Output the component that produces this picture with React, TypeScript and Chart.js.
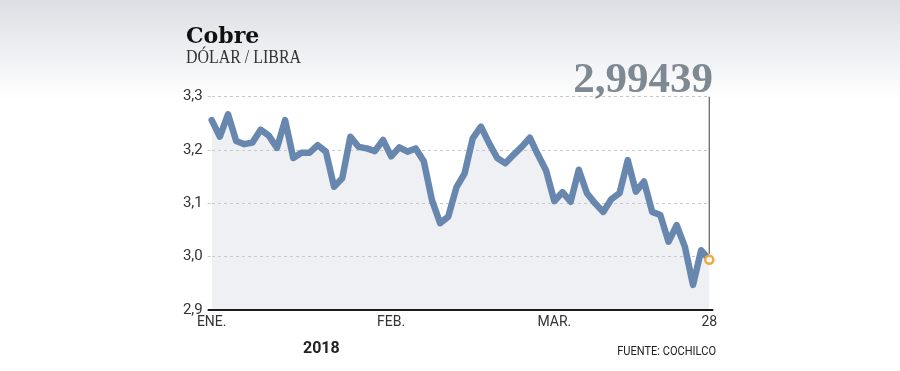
import { useEffect, useRef } from "react";
import { Chart, registerables } from "chart.js";

Chart.register(...registerables);

// Trading days (LME) Jan 2 – Mar 28, 2018
const dates: string[] = [
  "2018-01-02", "2018-01-03", "2018-01-04", "2018-01-05", "2018-01-08", "2018-01-09", "2018-01-10", "2018-01-11",
  "2018-01-12", "2018-01-15", "2018-01-16", "2018-01-17", "2018-01-18", "2018-01-19", "2018-01-22", "2018-01-23",
  "2018-01-24", "2018-01-25", "2018-01-26", "2018-01-29", "2018-01-30", "2018-01-31",
  "2018-02-01", "2018-02-02", "2018-02-05", "2018-02-06", "2018-02-07", "2018-02-08", "2018-02-09", "2018-02-12",
  "2018-02-13", "2018-02-14", "2018-02-15", "2018-02-16", "2018-02-19", "2018-02-20", "2018-02-21", "2018-02-22",
  "2018-02-23", "2018-02-26", "2018-02-27", "2018-02-28",
  "2018-03-01", "2018-03-02", "2018-03-05", "2018-03-06", "2018-03-07", "2018-03-08", "2018-03-09", "2018-03-12",
  "2018-03-13", "2018-03-14", "2018-03-15", "2018-03-16", "2018-03-19", "2018-03-20", "2018-03-21", "2018-03-22",
  "2018-03-23", "2018-03-26", "2018-03-27", "2018-03-28",
];

// Copper price, USD per pound
const prices: number[] = [
  3.256, 3.225, 3.267, 3.217, 3.211, 3.214, 3.238, 3.227, 3.204, 3.256, 3.185, 3.195, 3.195, 3.209, 3.197, 3.131,
  3.147, 3.225, 3.206, 3.203, 3.198, 3.219,
  3.188, 3.205, 3.197, 3.203, 3.179, 3.106, 3.063, 3.075, 3.130, 3.156, 3.222, 3.244, 3.213, 3.185, 3.175, 3.191,
  3.206, 3.223, 3.191, 3.161,
  3.104, 3.121, 3.103, 3.163, 3.119, 3.100, 3.084, 3.108, 3.119, 3.181, 3.122, 3.141, 3.084, 3.078, 3.028, 3.059,
  3.019, 2.947, 3.012, 2.99439,
];

const yTicks: number[] = [2.9, 3.0, 3.1, 3.2, 3.3];
const monthLabels: string[] = ["ENE.", "FEB.", "MAR.", "ABR.", "MAY.", "JUN.", "JUL.", "AGO.", "SEP.", "OCT.", "NOV.", "DIC."];

const titleText = "Cobre";
const subtitleText = "DÓLAR / LIBRA";
const lastValueText = "2,99439";
const yearText = "2018";
const sourceText = "FUENTE: COCHILCO";

const LINE_COLOR = "#6787ae";
const MARKER_COLOR = "#f0aa3c";

export default function App() {
  const ref = useRef<HTMLCanvasElement>(null);

  useEffect(() => {
    const canvas = ref.current;
    if (!canvas) return;

    const decorations = {
      id: "decorations",
      beforeDraw(chart: any) {
        const { ctx, width } = chart;
        ctx.save();
        const g = ctx.createLinearGradient(0, 0, 0, 100);
        g.addColorStop(0, "#dcdfe4");
        g.addColorStop(1, "#ffffff");
        ctx.fillStyle = "#ffffff";
        ctx.fillRect(0, 0, width, chart.height);
        ctx.fillStyle = g;
        ctx.fillRect(0, 0, width, 100);
        ctx.restore();
      },
      afterDraw(chart: any) {
        const { ctx, chartArea } = chart;
        const yScale = chart.scales.y;
        const meta = chart.getDatasetMeta(0);
        const last = meta.data[meta.data.length - 1];
        ctx.save();
        // x axis baseline
        const yb = yScale.getPixelForValue(yTicks[0]);
        ctx.strokeStyle = "#1a1a1a";
        ctx.lineWidth = 2;
        ctx.beginPath();
        ctx.moveTo(chartArea.left - 4, yb);
        ctx.lineTo(chartArea.right + 4, yb);
        ctx.stroke();
        // vertical marker line to last point
        ctx.strokeStyle = "#6b6b6b";
        ctx.lineWidth = 1.3;
        ctx.beginPath();
        ctx.moveTo(last.x, yScale.getPixelForValue(yTicks[yTicks.length - 1]));
        ctx.lineTo(last.x, last.y - 6);
        ctx.stroke();

        // texts
        ctx.textBaseline = "alphabetic";
        ctx.textAlign = "left";
        ctx.fillStyle = "#111111";
        ctx.font = 'bold 23px "DejaVu Serif"';
        ctx.save();
        ctx.translate(186, 42.5);
        ctx.scale(0.96, 1);
        ctx.fillText(titleText, 0, 0);
        ctx.restore();

        ctx.save();
        ctx.translate(186, 62.5);
        ctx.scale(0.885, 1);
        ctx.fillStyle = "#333333";
        ctx.font = '18px "Liberation Serif"';
        ctx.fillText(subtitleText, 0, 0);
        ctx.restore();

        ctx.textAlign = "right";
        ctx.fillStyle = "#7f8993";
        ctx.font = 'bold 43px "Liberation Serif"';
        ctx.fillText(lastValueText, 713, 92);

        ctx.textAlign = "left";
        ctx.fillStyle = "#222222";
        ctx.font = "bold 16px Roboto";
        ctx.fillText(yearText, 303, 353);

        ctx.save();
        ctx.translate(716, 354.5);
        ctx.scale(0.85, 1);
        ctx.textAlign = "right";
        ctx.fillStyle = "#222222";
        ctx.font = "13px Roboto";
        ctx.fillText(sourceText, 0, 0);
        ctx.restore();

        ctx.restore();
      },
    };

    const lastIndex = prices.length - 1;

    const chart = new Chart(canvas, {
      type: "line",
      data: {
        labels: dates,
        datasets: [
          {
            data: prices,
            borderColor: LINE_COLOR,
            borderWidth: 6.5,
            borderJoinStyle: "round",
            borderCapStyle: "round",
            tension: 0,
            fill: "start",
            backgroundColor: "rgba(200,205,215,0.3)",
            pointRadius: (c: any) => (c.dataIndex === lastIndex ? 4 : 0),
            pointHoverRadius: 0,
            pointBorderWidth: 2.5,
            pointBorderColor: MARKER_COLOR,
            pointBackgroundColor: "#ffffff",
            clip: false,
          } as any,
        ],
      },
      options: {
        responsive: false,
        animation: false,
        devicePixelRatio: 1,
        events: [],
        layout: { padding: { left: 161.7, right: 190.7, top: 96.7, bottom: 31 } },
        plugins: { legend: { display: false }, tooltip: { enabled: false }, title: { display: false } },
        scales: {
          x: {
            type: "category",
            offset: false,
            grid: { display: false, drawTicks: false },
            border: { display: false },
            afterFit: (s: any) => {
              s.height = 30;
            },
            ticks: {
              autoSkip: false,
              maxRotation: 0,
              minRotation: 0,
              padding: 4,
              color: "#333333",
              font: { family: "Roboto", size: 14 },
              callback: (_v: any, i: number) => {
                const d = dates[i];
                const m = parseInt(d.slice(5, 7), 10);
                if (i === dates.length - 1) return String(parseInt(d.slice(8, 10), 10));
                if (i === 0 || dates[i - 1].slice(5, 7) !== d.slice(5, 7)) return monthLabels[m - 1];
                return "";
              },
            },
          },
          y: {
            min: yTicks[0],
            max: yTicks[yTicks.length - 1],
            afterFit: (s: any) => {
              s.width = 50;
            },
            afterBuildTicks: (s: any) => {
              s.ticks = yTicks.map((v) => ({ value: v }));
            },
            grid: {
              color: "#c8c8c8",
              lineWidth: 1,
              drawTicks: true,
              tickLength: 4,
              tickColor: "#c8c8c8",
              tickBorderDash: [3, 3],
              borderDash: [3, 3],
            } as any,
            border: { display: false, dash: [3, 3] },
            ticks: {
              padding: 5,
              color: "#333333",
              font: { family: "Roboto", size: 15 },
              callback: (v: any) => Number(v).toFixed(1).replace(".", ","),
            },
          },
        },
      },
      plugins: [decorations],
    });

    return () => chart.destroy();
  }, []);

  return (
    <div style={{ position: "fixed", left: 0, top: 0, width: 900, height: 371, background: "#fff" }}>
      <canvas ref={ref} width={900} height={371} style={{ display: "block", width: 900, height: 371 }} />
    </div>
  );
}
